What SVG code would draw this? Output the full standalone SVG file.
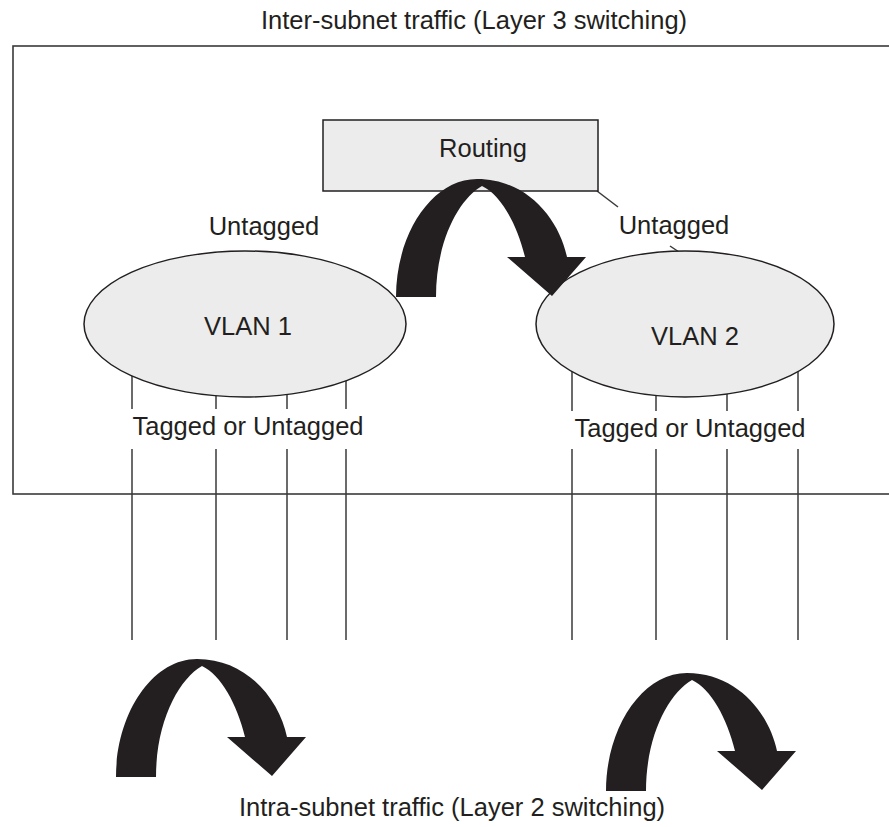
<svg xmlns="http://www.w3.org/2000/svg" xmlns:xlink="http://www.w3.org/1999/xlink" width="889" height="827" viewBox="0 0 889 827">
<style>
text{font-family:"Liberation Sans",Arial,sans-serif;font-size:25.5px;fill:#231f20;text-anchor:middle}
.box{fill:none;stroke:#3a3a3a;stroke-width:1.6}
.node{fill:#ececec;stroke:#231f20;stroke-width:1.5}
.port{stroke:#3a3a3a;stroke-width:1.5;fill:none}
.arrow{fill:#231f20}
</style>
<defs>
<path id="uarrow" class="arrow" d="M-81,118 C-81,55 -45,0 0,0 C50,0 82,40 90,78 L109,78 L75,117 L30,78 L48,78 C40,45 24,16 5,7 C-18,20 -41,62 -41,118 Z"/>
</defs>
<rect class="box" x="13" y="46" width="890" height="448"/>
<text x="474" y="29">Inter-subnet traffic (Layer 3 switching)</text>
<text x="452" y="816">Intra-subnet traffic (Layer 2 switching)</text>
<g id="connectors">
<line class="port" x1="132" y1="340" x2="132" y2="409"/>
<line class="port" x1="216" y1="340" x2="216" y2="409"/>
<line class="port" x1="287" y1="340" x2="287" y2="409"/>
<line class="port" x1="346" y1="340" x2="346" y2="409"/>
<line class="port" x1="132" y1="449" x2="132" y2="640"/>
<line class="port" x1="216" y1="449" x2="216" y2="640"/>
<line class="port" x1="287" y1="449" x2="287" y2="640"/>
<line class="port" x1="346" y1="449" x2="346" y2="640"/>
<line class="port" x1="572" y1="340" x2="572" y2="411"/>
<line class="port" x1="656" y1="340" x2="656" y2="411"/>
<line class="port" x1="727" y1="340" x2="727" y2="411"/>
<line class="port" x1="798" y1="340" x2="798" y2="411"/>
<line class="port" x1="572" y1="449" x2="572" y2="640"/>
<line class="port" x1="656" y1="449" x2="656" y2="640"/>
<line class="port" x1="727" y1="449" x2="727" y2="640"/>
<line class="port" x1="798" y1="449" x2="798" y2="640"/>
<line class="port" x1="597" y1="191" x2="618" y2="207" stroke-width="1.2"/>
<line class="port" x1="670" y1="246" x2="679" y2="252" stroke-width="1.2"/>
</g>
<g id="routing">
<rect class="node" x="323" y="120" width="275" height="71"/>
<text x="483" y="157">Routing</text>
</g>
<g id="vlan1">
<ellipse class="node" cx="245" cy="324" rx="161" ry="73"/>
<text x="248" y="335">VLAN 1</text>
</g>
<g id="vlan2">
<ellipse class="node" cx="685" cy="324" rx="149" ry="73"/>
<text x="695" y="345">VLAN 2</text>
</g>
<text x="264" y="235">Untagged</text>
<text x="674" y="234">Untagged</text>
<text x="248" y="435">Tagged or Untagged</text>
<text x="690" y="437">Tagged or Untagged</text>
<g id="arrows">
<use xlink:href="#uarrow" x="477" y="179"/>
<use xlink:href="#uarrow" x="197" y="659"/>
<use xlink:href="#uarrow" x="687" y="673"/>
</g>
</svg>
